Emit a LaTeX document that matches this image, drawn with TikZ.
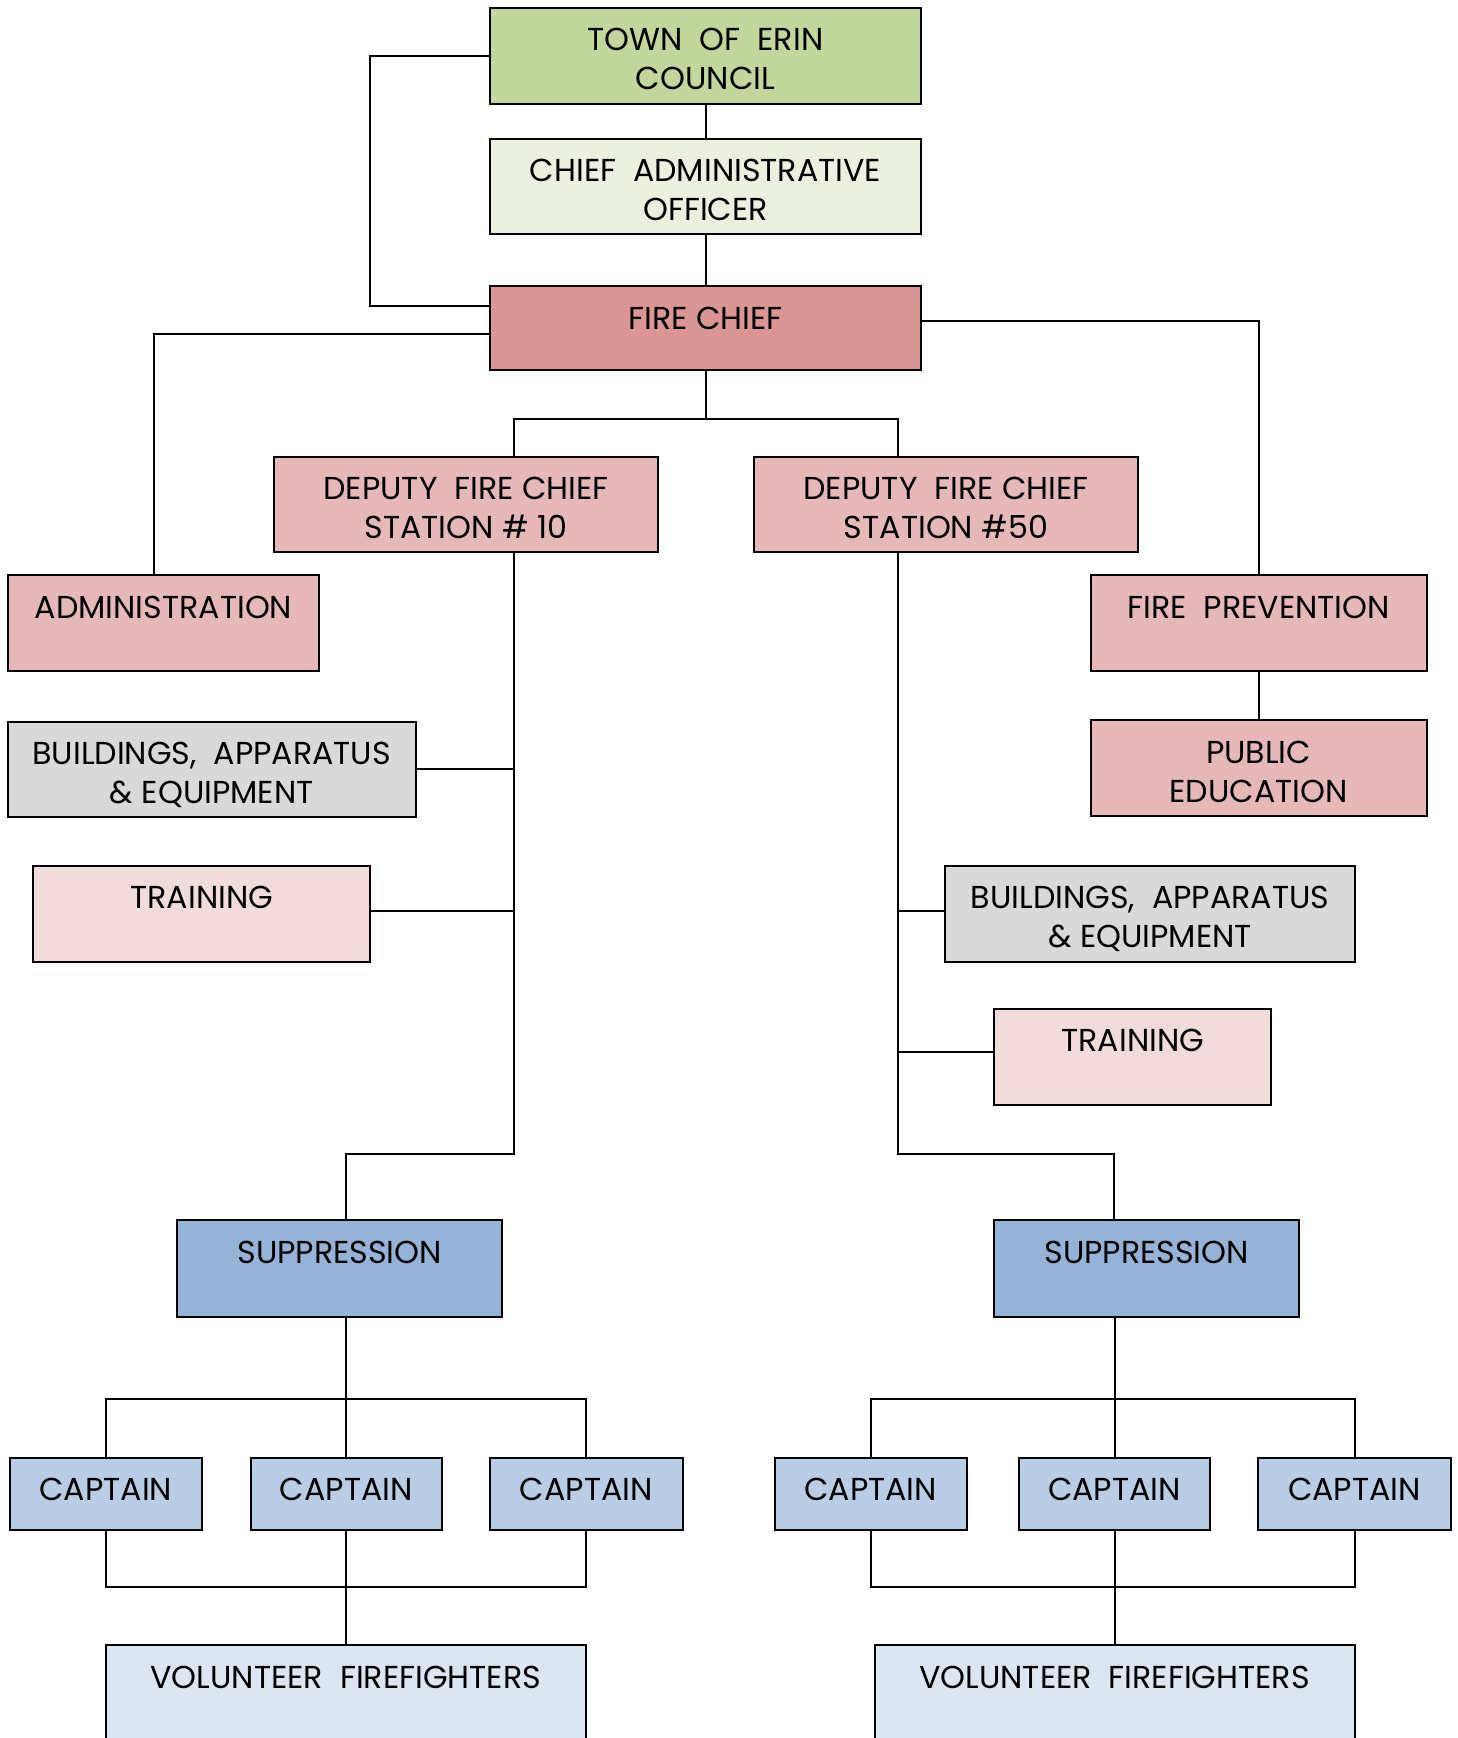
\documentclass[tikz,border=0pt]{standalone}
\usepackage{fontspec}
\setmainfont{Poppins}
\usetikzlibrary{calc}
\definecolor{cgreen}{HTML}{C3D69B}
\definecolor{cpale}{HTML}{EBF1DE}
\definecolor{cred}{HTML}{D99694}
\definecolor{cpink}{HTML}{E6B9B8}
\definecolor{cgrey}{HTML}{D9D9D9}
\definecolor{ctrain}{HTML}{F2DCDB}
\definecolor{csup}{HTML}{95B3D7}
\definecolor{ccap}{HTML}{B9CDE5}
\definecolor{cvol}{HTML}{DCE6F2}
\tikzset{
  obox/.style={draw=black, line width=0.9pt, inner sep=0pt, outer sep=0pt, anchor=north west},
  conn/.style={draw=black, line width=0.9pt}
}
\newcommand\orgbox[7]{%
  \node[obox, fill=#6] (#1) at (#2,#3)
  {\parbox[c][\dimexpr(#5pt-#3pt)/2\relax][t]{\dimexpr(#4pt-#2pt)/2\relax}{\centering\fontsize{14.3pt}{17.5pt}\selectfont\vspace*{7.25pt}\strut #7\par}};}
\begin{document}
\begin{tikzpicture}[x=0.5pt, y=-0.5pt]
\useasboundingbox (0,0) rectangle (1315,1568);
\clip (0,0) rectangle (1315,1568);
\orgbox{council}{442}{7}{831}{94}{cgreen}{TOWN\ \ OF\ \ ERIN\\COUNCIL}
\orgbox{cao}{442}{125}{831}{211}{cpale}{CHIEF\ \ ADMINISTRATIVE\\OFFICER}
\orgbox{chief}{442}{258}{831}{334}{cred}{FIRE CHIEF}
\orgbox{depA}{247}{412}{594}{498}{cpink}{DEPUTY\ \ FIRE CHIEF\\STATION \# 10}
\orgbox{depB}{680}{412}{1027}{498}{cpink}{DEPUTY\ \ FIRE CHIEF\\STATION \#50}
\orgbox{admin}{7}{519}{288}{605}{cpink}{ADMINISTRATION}
\orgbox{fprev}{984}{519}{1287}{605}{cpink}{FIRE\ \ PREVENTION}
\orgbox{pubed}{984}{650}{1287}{736}{cpink}{PUBLIC\\EDUCATION}
\orgbox{bldA}{7}{651}{375}{737}{cgrey}{BUILDINGS,\ \ APPARATUS\\\& EQUIPMENT}
\orgbox{trainA}{30}{781}{334}{868}{ctrain}{TRAINING}
\orgbox{bldB}{853}{781}{1222}{868}{cgrey}{BUILDINGS,\ \ APPARATUS\\\& EQUIPMENT}
\orgbox{trainB}{897}{910}{1147}{997}{ctrain}{TRAINING}
\orgbox{supA}{160}{1101}{453}{1188}{csup}{SUPPRESSION}
\orgbox{supB}{897}{1101}{1172}{1188}{csup}{SUPPRESSION}
\orgbox{capA1}{9}{1315}{182}{1380}{ccap}{CAPTAIN}
\orgbox{capA2}{226}{1315}{399}{1380}{ccap}{CAPTAIN}
\orgbox{capA3}{442}{1315}{616}{1380}{ccap}{CAPTAIN}
\orgbox{capB1}{699}{1315}{872}{1380}{ccap}{CAPTAIN}
\orgbox{capB2}{919}{1315}{1092}{1380}{ccap}{CAPTAIN}
\orgbox{capB3}{1135}{1315}{1309}{1380}{ccap}{CAPTAIN}
\orgbox{volA}{95.5}{1484.5}{528.5}{1610}{cvol}{VOLUNTEER\ \ FIREFIGHTERS}
\orgbox{volB}{789}{1484.5}{1222}{1610}{cvol}{VOLUNTEER\ \ FIREFIGHTERS}
% top chain
\draw[conn] (council.south) -- (cao.north);
\draw[conn] (cao.south) -- (chief.north);
\draw[conn] (council.west) -| (334,276) -- (chief.west |- 0,276);
\draw[conn] (chief.west |- 0,301) -| ($(admin.north west)+(132,0)$);
\draw[conn] (chief.east |- 0,290) -| (fprev.north);
\draw[conn] (fprev.south) -- (pubed.north);
\draw[conn] (chief.south) -- (chief.south |- 0,378);
\draw[conn] (depA.north -| 464,0) |- (810,378) -- (depB.north -| 810,0);
% left trunk
\draw[conn] (depA.south -| 464,0) -- (464,1041) -| (supA.north -| 312,0);
\draw[conn] (bldA.east) -- (bldA.east -| 464,0);
\draw[conn] (trainA.east |- 0,822) -- (464,822);
% right trunk
\draw[conn] (depB.south -| 810,0) -- (810,1041) -| (supB.north -| 1005,0);
\draw[conn] (bldB.west |- 0,822) -- (810,822);
\draw[conn] (trainB.west |- 0,949) -- (810,949);
% left captains
\draw[conn] (supA.south -| capA2.north) -- (capA2.north);
\draw[conn] (capA1.north) -- (capA1.north |- 0,1262) -| (capA3.north);
\draw[conn] (capA1.south) -- (capA1.south |- 0,1432) -| (capA3.south);
\draw[conn] (capA2.south) -- (capA2.south |- volA.north);
% right captains
\draw[conn] (supB.south -| capB2.north) -- (capB2.north);
\draw[conn] (capB1.north) -- (capB1.north |- 0,1262) -| (capB3.north);
\draw[conn] (capB1.south) -- (capB1.south |- 0,1432) -| (capB3.south);
\draw[conn] (capB2.south) -- (capB2.south |- volB.north);
\end{tikzpicture}
\end{document}
